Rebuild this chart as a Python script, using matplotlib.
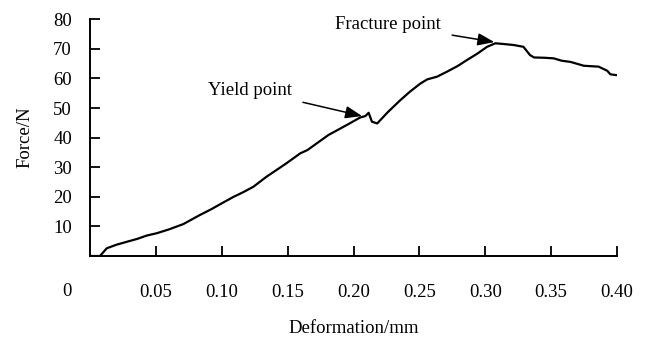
import matplotlib
matplotlib.use("Agg")
import matplotlib.pyplot as plt

plt.rcParams['font.family'] = ['Liberation Serif', 'DejaVu Serif']

deformation = [0.0, 0.0076, 0.0127, 0.0200, 0.0279, 0.0360, 0.0430, 0.0507, 0.0600, 0.0709,
               0.0836, 0.0920, 0.1000, 0.1090, 0.1160, 0.1240, 0.1340, 0.1490, 0.1596, 0.1650,
               0.1810, 0.1950, 0.2050, 0.2090, 0.2115, 0.2140, 0.2180, 0.2260, 0.2356, 0.2430,
               0.2508, 0.2560, 0.2634, 0.2710, 0.2790, 0.2860, 0.2940, 0.3014, 0.3077, 0.3150,
               0.3217, 0.3290, 0.3340, 0.3370, 0.3450, 0.3520, 0.3580, 0.3647, 0.3748, 0.3860,
               0.3926, 0.3950, 0.4000]
force = [0.0, 0.0, 2.6, 3.8, 4.8, 5.8, 6.9, 7.7, 9.0, 10.8,
         13.9, 15.8, 17.8, 20.0, 21.5, 23.4, 26.8, 31.3, 34.7, 35.8,
         40.9, 44.3, 46.8, 47.3, 48.4, 45.4, 44.8, 48.6, 52.7, 55.6,
         58.3, 59.7, 60.6, 62.3, 64.2, 66.2, 68.4, 70.7, 71.9, 71.6,
         71.3, 70.7, 67.9, 67.1, 67.0, 66.8, 66.0, 65.6, 64.3, 64.0,
         62.6, 61.4, 61.1]

xticks = [0.05, 0.10, 0.15, 0.20, 0.25, 0.30, 0.35, 0.40]
xticklabels = ['0.05', '0.10', '0.15', '0.20', '0.25', '0.30', '0.35', '0.40']
yticks = [10, 20, 30, 40, 50, 60, 70, 80]

FS = 13.5

fig = plt.figure(figsize=(6.47, 3.41), dpi=100)
ax = fig.add_axes([90/647, 1-256/341, 527/647, (256-19.3)/341])

ax.plot(deformation, force, color='black', lw=1.6)

ax.set_xlim(0, 0.40)
ax.set_ylim(0, 80)
ax.spines['top'].set_visible(False)
ax.spines['right'].set_visible(False)
for s in ('left', 'bottom'):
    ax.spines[s].set_linewidth(1.4)

ax.set_xticks(xticks)
ax.set_xticklabels(xticklabels)
ax.set_yticks(yticks)
ax.tick_params(axis='both', direction='in', length=7, width=1.3, labelsize=FS)
ax.tick_params(axis='x', pad=20)
ax.tick_params(axis='y', pad=13)

ax.annotate('0', xy=(0, 0), xycoords='data', xytext=(-23, -35), textcoords='offset pixels',
            ha='center', va='center', fontsize=FS)

ax.set_xlabel('Deformation/mm', fontsize=FS, labelpad=14)
ax.set_ylabel('Force/N', fontsize=FS, labelpad=14)

arrow = dict(arrowstyle='-|>,head_length=0.75,head_width=0.28', color='black', lw=1.1,
             shrinkA=6, shrinkB=0)
ax.annotate('Yield point', xy=(0.2065, 47.3), xytext=(0.1534, 56.1),
            arrowprops=arrow, ha='right', va='center', fontsize=FS)
ax.annotate('Fracture point', xy=(0.3069, 72.3), xytext=(0.2665, 78.2),
            arrowprops=arrow, ha='right', va='center', fontsize=FS)

fig.savefig('out.png', dpi=100)
